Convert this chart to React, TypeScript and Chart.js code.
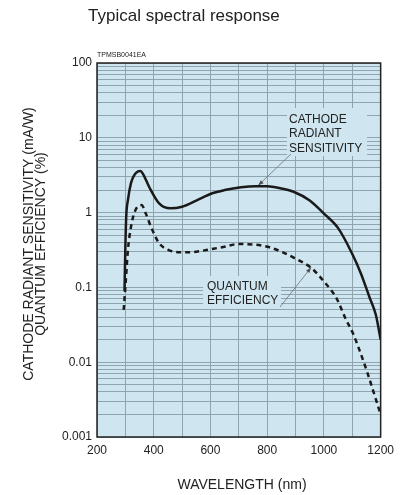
import React, { useEffect, useRef } from 'react';
import { Chart, registerables } from 'chart.js';

Chart.register(...registerables);

// ---- Data ----
const crsWavelength = [297, 300, 303, 309, 320, 332, 345, 353, 362, 384, 419, 459, 500, 550, 604, 650, 708, 760, 800, 850, 893, 950, 1000, 1050, 1100, 1130, 1160, 1183, 1200];
const crsValue = [0.09, 0.35, 0.88, 1.47, 2.5, 3.2, 3.55, 3.6, 3.3, 2.2, 1.33, 1.14, 1.2, 1.45, 1.8, 2.0, 2.18, 2.25, 2.25, 2.1, 1.9, 1.45, 0.97, 0.62, 0.28, 0.155, 0.075, 0.043, 0.02];

const qeWavelength = [294, 301, 309, 320, 335, 357, 372, 390, 419, 453, 500, 550, 592, 650, 697, 750, 801, 850, 893, 957, 1000, 1044, 1078, 1102, 1125, 1154, 1183, 1200];
const qeValue = [0.05, 0.113, 0.316, 0.65, 1.07, 1.26, 0.97, 0.65, 0.39, 0.316, 0.295, 0.3, 0.32, 0.35, 0.38, 0.375, 0.35, 0.3, 0.25, 0.18, 0.12, 0.072, 0.037, 0.0245, 0.0146, 0.0071, 0.0032, 0.002];

const xTickLabels = ['200', '400', '600', '800', '1000', '1200'];
const xGridStep = 100;
const yTickLabels = ['0.001', '0.01', '0.1', '1', '10', '100'];

const titleText = 'Typical spectral response';
const codeText = 'TPMSB0041EA';
const yTitleLines = ['CATHODE RADIANT SENSITIVITY (mA/W)', 'QUANTUM EFFICIENCY (%)'];
const xTitleText = 'WAVELENGTH (nm)';
const crsLabelLines = ['CATHODE', 'RADIANT', 'SENSITIVITY'];
const crsLabelTip = [768, 2.3];
const qeLabelLines = ['QUANTUM', 'EFFICIENCY'];
const qeLabelTip = [955, 0.185];

// ---- Styles ----
const FONT = '"Liberation Sans", Arial, Helvetica, sans-serif';
const PLOT_BG = '#cfe5ef';
const GRID = '#8ea4ae';
const INK = '#1a1a1a';

function arrowLine(ctx: CanvasRenderingContext2D, x0: number, y0: number, x1: number, y1: number) {
  ctx.beginPath();
  ctx.moveTo(x0, y0);
  ctx.lineTo(x1, y1);
  ctx.stroke();
  const ang = Math.atan2(y1 - y0, x1 - x0);
  const L = 6, W = 0.35;
  ctx.beginPath();
  ctx.moveTo(x1, y1);
  ctx.lineTo(x1 - L * Math.cos(ang - W), y1 - L * Math.sin(ang - W));
  ctx.lineTo(x1 - L * Math.cos(ang + W), y1 - L * Math.sin(ang + W));
  ctx.closePath();
  ctx.fill();
}

const decor = {
  id: 'decor',
  beforeDraw(chart: any) {
    const { ctx, chartArea: a } = chart;
    ctx.save();
    ctx.fillStyle = '#ffffff';
    ctx.fillRect(0, 0, chart.width, chart.height);
    ctx.fillStyle = PLOT_BG;
    ctx.fillRect(a.left, a.top, a.right - a.left, a.bottom - a.top);
    ctx.restore();
  },
  beforeDatasetsDraw(chart: any) {
    const { ctx } = chart;
    const xs = chart.scales.x;
    const ys = chart.scales.y;
    ctx.save();
    // label masks
    ctx.fillStyle = PLOT_BG;
    ctx.fillRect(287, 108, 80, 48);
    ctx.fillRect(203, 276, 78, 33);
    // label texts
    ctx.fillStyle = '#222';
    ctx.font = `12px ${FONT}`;
    ctx.textAlign = 'left';
    ctx.textBaseline = 'alphabetic';
    crsLabelLines.forEach((t, i) => ctx.fillText(t, 289, 122.5 + i * 14.6));
    qeLabelLines.forEach((t, i) => ctx.fillText(t, 207, 289.5 + i * 14.6));
    // leaders
    ctx.strokeStyle = '#707070';
    ctx.fillStyle = '#505050';
    ctx.lineWidth = 0.8;
    arrowLine(ctx, 291, 154, xs.getPixelForValue(crsLabelTip[0]), ys.getPixelForValue(crsLabelTip[1]));
    arrowLine(ctx, 280, 307, xs.getPixelForValue(qeLabelTip[0]), ys.getPixelForValue(qeLabelTip[1]));
    ctx.restore();
  },
  afterDraw(chart: any) {
    const { ctx, chartArea: a } = chart;
    ctx.save();
    ctx.strokeStyle = '#222';
    ctx.lineWidth = 1.5;
    ctx.strokeRect(a.left, a.top, a.right - a.left, a.bottom - a.top);

    ctx.fillStyle = '#222';
    ctx.textBaseline = 'alphabetic';
    ctx.textAlign = 'left';
    ctx.font = `17px ${FONT}`;
    ctx.fillText(titleText, 88, 21);
    ctx.font = `7px ${FONT}`;
    ctx.fillText(codeText, 97, 57);

    ctx.font = `14px ${FONT}`;
    ctx.textAlign = 'center';
    ctx.fillText(xTitleText, 242, 489);

    const ycs = [33, 45];
    yTitleLines.forEach((t, i) => {
      ctx.save();
      ctx.translate(ycs[i], 244);
      ctx.rotate(-Math.PI / 2);
      ctx.fillText(t, 0, 0);
      ctx.restore();
    });
    ctx.restore();
  },
};

export default function App() {
  const ref = useRef<HTMLCanvasElement | null>(null);
  useEffect(() => {
    if (!ref.current) return;
    const crsData = crsWavelength.map((x, i) => ({ x, y: crsValue[i] }));
    const qeData = qeWavelength.map((x, i) => ({ x, y: qeValue[i] }));
    const yDecades = yTickLabels.map(Number);
    const chart = new Chart(ref.current, {
      type: 'line',
      data: {
        datasets: [
          {
            label: 'Cathode radiant sensitivity',
            data: crsData,
            borderColor: INK,
            borderWidth: 2.5,
            pointRadius: 0,
            cubicInterpolationMode: 'monotone',
            fill: false,
          },
          {
            label: 'Quantum efficiency',
            data: qeData,
            borderColor: INK,
            borderWidth: 2.5,
            borderDash: [5, 4],
            pointRadius: 0,
            cubicInterpolationMode: 'monotone',
            fill: false,
          },
        ],
      },
      options: {
        responsive: false,
        animation: false,
        layout: { padding: { left: 0, top: 63, right: 15, bottom: 0 } },
        plugins: {
          legend: { display: false },
          tooltip: { enabled: false },
          title: { display: false },
        },
        scales: {
          x: {
            type: 'linear',
            min: Number(xTickLabels[0]),
            max: Number(xTickLabels[xTickLabels.length - 1]),
            afterFit: (s: any) => { s.height = 58; },
            grid: { color: GRID, lineWidth: 1, drawTicks: false },
            border: { display: false },
            ticks: {
              stepSize: xGridStep,
              autoSkip: false,
              maxRotation: 0,
              padding: 6,
              color: '#222',
              font: { family: FONT, size: 12 },
              callback: (v: any) => {
                const s = String(v);
                return xTickLabels.includes(s) ? s : '';
              },
            },
          },
          y: {
            type: 'logarithmic',
            min: yDecades[0],
            max: yDecades[yDecades.length - 1],
            afterFit: (s: any) => { s.width = 97; },
            afterBuildTicks: (s: any) => {
              const ticks: any[] = [];
              for (let i = 0; i < yDecades.length - 1; i++) {
                for (let m = 1; m <= 9; m++) {
                  ticks.push({ value: yDecades[i] * m, major: m === 1 });
                }
              }
              ticks.push({ value: yDecades[yDecades.length - 1], major: true });
              s.ticks = ticks;
            },
            grid: { color: GRID, lineWidth: 1, drawTicks: false },
            border: { display: false },
            ticks: {
              autoSkip: false,
              padding: 5,
              color: '#222',
              font: { family: FONT, size: 12 },
              callback: (v: any) => {
                const n = Number(v);
                const lab = yTickLabels.find((l) => Math.abs(Number(l) / n - 1) < 1e-6);
                return lab ?? '';
              },
            },
          },
        },
      },
      plugins: [decor],
    } as any);
    return () => chart.destroy();
  }, []);
  return (
    <div style={{ position: 'absolute', left: 0, top: 0, width: 400, height: 495 }}>
      <canvas ref={ref} width={400} height={495} style={{ width: 400, height: 495 }} />
    </div>
  );
}
